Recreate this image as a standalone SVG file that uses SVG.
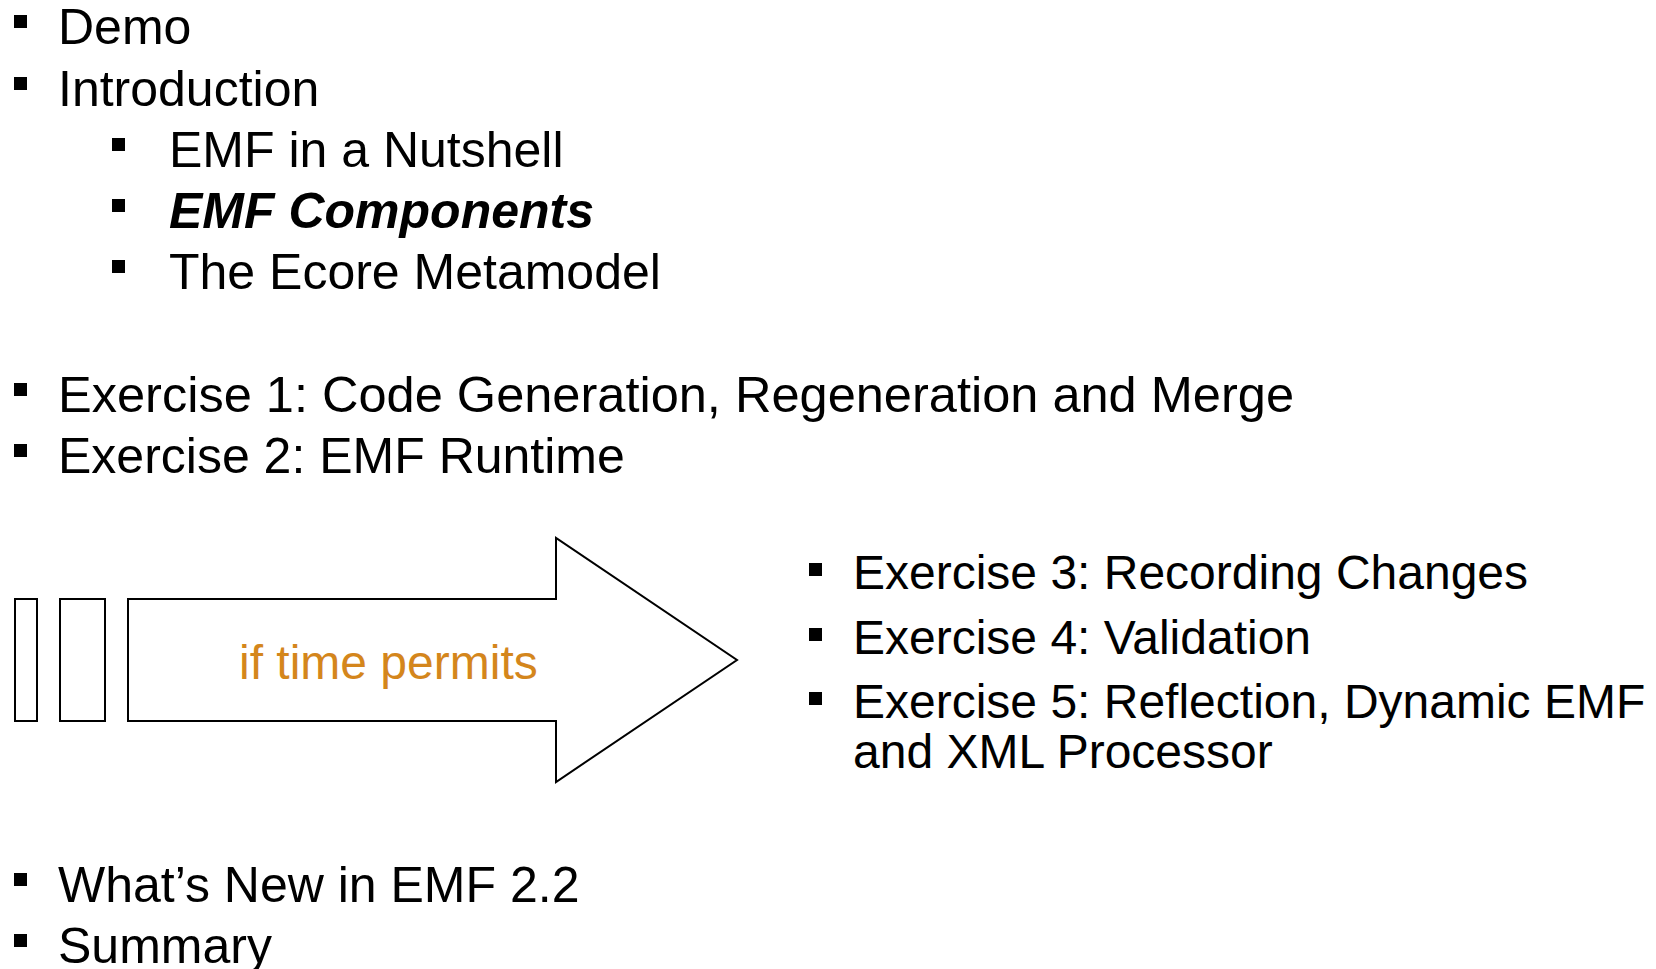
<svg xmlns="http://www.w3.org/2000/svg" width="1656" height="969" viewBox="0 0 1656 969">
<style>
text{font-family:"Liberation Sans",Arial,sans-serif;fill:#000}
.l{font-size:50px}
.r{font-size:48px}
.b{fill:#000}
.sh{fill:#fff;stroke:#000;stroke-width:2}
.o{fill:#D4861C;font-size:48px}
</style>
<rect width="1656" height="969" fill="#fff"/>
<g id="item-demo"><rect class="b" x="14" y="15" width="13" height="13"/><text class="l" x="58" y="44">Demo</text></g>
<g id="item-intro"><rect class="b" x="14" y="77" width="13" height="13"/><text class="l" x="58" y="106">Introduction</text></g>
<g id="item-nutshell"><rect class="b" x="112" y="138" width="13" height="13"/><text class="l" x="169" y="167">EMF in a Nutshell</text></g>
<g id="item-components"><rect class="b" x="112" y="199" width="13" height="13"/><text class="l" x="169" y="228" font-weight="bold" font-style="italic">EMF Components</text></g>
<g id="item-ecore"><rect class="b" x="112" y="260" width="13" height="13"/><text class="l" x="169" y="289">The Ecore Metamodel</text></g>
<g id="item-ex1"><rect class="b" x="14" y="383" width="13" height="13"/><text class="l" x="58" y="412" textLength="1236" lengthAdjust="spacingAndGlyphs">Exercise 1: Code Generation, Regeneration and Merge</text></g>
<g id="item-ex2"><rect class="b" x="14" y="444" width="13" height="13"/><text class="l" x="58" y="473">Exercise 2: EMF Runtime</text></g>
<g id="arrow">
<rect class="sh" x="15" y="599" width="22" height="122"/>
<rect class="sh" x="60" y="599" width="45" height="122"/>
<polygon class="sh" points="128,599 556,599 556,538 737,660 556,782 556,721 128,721"/>
<text class="o" x="239" y="679">if time permits</text>
</g>
<g id="item-ex3"><rect class="b" x="809" y="563" width="13" height="13"/><text class="r" x="853" y="589">Exercise 3: Recording Changes</text></g>
<g id="item-ex4"><rect class="b" x="809" y="628" width="13" height="13"/><text class="r" x="853" y="654">Exercise 4: Validation</text></g>
<g id="item-ex5"><rect class="b" x="809" y="692" width="13" height="13"/><text class="r" x="853" y="718">Exercise 5: Reflection, Dynamic EMF</text><text class="r" x="853" y="768">and XML Processor</text></g>
<g id="item-new"><rect class="b" x="14" y="873" width="13" height="13"/><text class="l" x="58" y="902">What’s New in EMF 2.2</text></g>
<g id="item-summary"><rect class="b" x="14" y="934" width="13" height="13"/><text class="l" x="58" y="963">Summary</text></g>
<g id="connectors"/>
</svg>
